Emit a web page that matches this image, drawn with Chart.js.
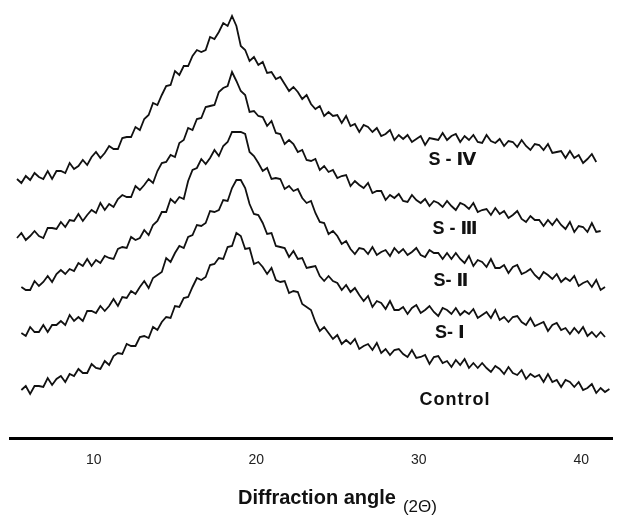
<!DOCTYPE html>
<html>
<head>
<meta charset="utf-8">
<title>Diffraction patterns</title>
<script src="https://cdn.jsdelivr.net/npm/chart.js@4.4.1/dist/chart.umd.min.js"></script>
<style>
  html, body { margin: 0; padding: 0; background: #fff; }
  #wrap { position: relative; width: 623px; height: 518px; }
</style>
</head>
<body>
<div id="wrap"><canvas id="xrd-chart"></canvas></div>
<script>
// diffraction angle (2θ) of each reading
const angles = [
  5.28, 5.55, 5.82, 6.09, 6.36, 6.63, 6.90, 7.17, 7.44, 7.71,
  7.98, 8.25, 8.52, 8.79, 9.06, 9.33, 9.60, 9.87, 10.14, 10.41,
  10.68, 10.95, 11.22, 11.49, 11.76, 12.03, 12.30, 12.57, 12.84, 13.11,
  13.38, 13.65, 13.92, 14.19, 14.46, 14.73, 15.00, 15.27, 15.54, 15.81,
  16.08, 16.35, 16.62, 16.89, 17.16, 17.43, 17.70, 17.97, 18.24, 18.51,
  18.78, 19.05, 19.32, 19.59, 19.86, 20.13, 20.40, 20.67, 20.94, 21.21,
  21.48, 21.75, 22.02, 22.29, 22.56, 22.83, 23.10, 23.37, 23.64, 23.91,
  24.18, 24.45, 24.72, 24.99, 25.26, 25.53, 25.80, 26.07, 26.34, 26.61,
  26.88, 27.15, 27.42, 27.69, 27.96, 28.23, 28.50, 28.77, 29.04, 29.31,
  29.58, 29.85, 30.12, 30.39, 30.66, 30.93, 31.20, 31.47, 31.74, 32.01,
  32.28, 32.55, 32.82, 33.09, 33.36, 33.63, 33.90, 34.17, 34.44, 34.71,
  34.98, 35.25, 35.52, 35.79, 36.06, 36.33, 36.60, 36.87, 37.14, 37.41,
  37.68, 37.95, 38.22, 38.49, 38.76, 39.03, 39.30, 39.57, 39.84, 40.11,
  40.38, 40.65, 40.92, 41.19, 41.46, 41.73
];

// intensities (arbitrary units, curves stacked with offsets as in the figure)
const sIV = [
  259, 255, 262, 258, 265, 261, 259, 267, 259, 267,
  267, 265, 275, 269, 272, 278, 273, 281, 286, 280,
  285, 292, 289, 289, 300, 301, 301, 311, 308, 319,
  323, 335, 333, 343, 352, 353, 367, 363, 372, 372,
  382, 388, 386, 388, 401, 399, 406, 415, 412, 422,
  412, 392, 388, 377, 381, 373, 376, 365, 366, 359,
  361, 354, 347, 351, 346, 339, 343, 334, 329, 332,
  322, 326, 322, 323, 315, 322, 312, 314, 306, 313,
  311, 306, 310, 302, 304, 308, 298, 303, 299, 303,
  296, 299, 302, 293, 300, 299, 298, 305, 298, 302,
  304, 296, 302, 298, 303, 296, 295, 303, 297, 295,
  299, 292, 297, 296, 291, 298, 292, 288, 294, 293,
  288, 294, 285, 286, 287, 280, 287, 280, 283, 275,
  279, 284, 276, null, null, null
];

const sIII = [
  200, 205, 198, 202, 207, 202, 200, 210, 210, 209,
  216, 211, 218, 217, 224, 217, 223, 228, 225, 235,
  228, 234, 231, 239, 243, 241, 241, 252, 248, 253,
  259, 255, 267, 275, 276, 283, 281, 295, 298, 310,
  308, 319, 320, 331, 332, 333, 346, 350, 352, 366,
  357, 347, 343, 326, 327, 322, 321, 312, 317, 305,
  304, 294, 298, 294, 286, 288, 278, 277, 279, 268,
  272, 266, 268, 260, 262, 263, 252, 257, 253, 250,
  255, 245, 247, 247, 238, 243, 240, 244, 237, 236,
  243, 238, 235, 239, 232, 237, 235, 231, 237, 232,
  228, 235, 233, 229, 235, 226, 228, 229, 223, 230,
  224, 227, 220, 223, 227, 219, 216, 222, 218, 218,
  212, 218, 213, 219, 213, 209, 216, 206, 212, 211,
  206, 215, 206, 207, null, null
];

const sII = [
  null, 151, 148, 148, 157, 152, 156, 162, 156, 164,
  168, 164, 169, 167, 175, 172, 179, 172, 178, 175,
  182, 180, 179, 189, 191, 190, 201, 198, 200, 208,
  203, 213, 217, 226, 226, 239, 235, 241, 239, 257,
  268, 270, 279, 274, 280, 288, 282, 292, 296, 306,
  306, 306, 304, 286, 282, 275, 267, 270, 259, 260,
  259, 249, 252, 247, 249, 240, 235, 237, 225, 216,
  215, 204, 207, 202, 194, 197, 189, 184, 190, 189,
  184, 191, 183, 186, 188, 182, 190, 185, 189, 183,
  186, 190, 183, 181, 188, 185, 185, 179, 185, 179,
  185, 179, 175, 182, 172, 178, 176, 171, 179, 170,
  170, 173, 165, 171, 173, 164, 166, 169, 163, 159,
  166, 163, 159, 164, 156, 160, 157, 162, 152, 155,
  157, 151, 158, 148, 151, null
];

const sI = [
  null, 105, 102, 111, 106, 106, 113, 106, 113, 113,
  117, 113, 123, 117, 121, 117, 127, 127, 125, 132,
  127, 132, 139, 132, 141, 140, 147, 144, 151, 157,
  150, 160, 163, 166, 180, 176, 185, 192, 190, 201,
  203, 213, 212, 215, 227, 226, 228, 238, 237, 250,
  258, 258, 250, 234, 224, 223, 215, 204, 205, 192,
  191, 190, 181, 187, 179, 180, 170, 171, 172, 162,
  157, 162, 157, 155, 148, 153, 146, 150, 143, 137,
  142, 131, 137, 135, 129, 137, 128, 128, 131, 124,
  130, 133, 125, 128, 132, 126, 122, 130, 128, 124,
  130, 123, 127, 124, 129, 120, 123, 126, 120, 128,
  118, 121, 116, 121, 122, 116, 113, 120, 112, 114,
  116, 107, 113, 115, 108, 110, 104, 110, 105, 111,
  102, 106, 101, 106, 101, null
];

const control = [
  null, 48, 52, 44, 52, 52, 51, 60, 53, 59,
  62, 56, 64, 62, 69, 65, 65, 74, 70, 69,
  77, 73, 82, 85, 84, 94, 92, 92, 101, 102,
  100, 111, 108, 116, 121, 120, 132, 131, 140, 141,
  151, 160, 158, 161, 173, 174, 180, 179, 191, 192,
  205, 202, 189, 190, 174, 176, 171, 164, 170, 158,
  156, 157, 145, 147, 146, 134, 131, 128, 116, 107,
  111, 105, 99, 103, 94, 98, 94, 99, 89, 92,
  94, 88, 95, 85, 89, 83, 88, 89, 84, 81,
  88, 80, 81, 83, 74, 81, 82, 75, 77, 71,
  78, 73, 79, 70, 75, 70, 75, 70, 66, 72,
  69, 64, 71, 65, 63, 68, 59, 64, 61, 63,
  56, 64, 56, 58, 51, 58, 56, 51, 56, 48,
  50, 54, 45, 50, 46, 49
];

const tickValues = [10, 20, 30, 40];

// curve names and where they sit (angle, intensity)
const curveNames = ["S - Ⅳ", "S - Ⅲ", "S- Ⅱ", "S- Ⅰ", "Control"];
const nameAngles = [32.07, 32.23, 31.98, 31.92, 32.23];
const nameLevels = [278, 209, 157, 105, 38];

const allSeries = [sIV, sIII, sII, sI, control];

function toPoints(values) {
  return angles.map((a, i) => ({ x: a, y: values[i] }));
}

const curveLabels = {
  id: "curveLabels",
  afterDatasetsDraw(chart) {
    const ctx = chart.ctx;
    const xScale = chart.scales.x;
    const yScale = chart.scales.y;
    ctx.save();
    ctx.fillStyle = "#111";
    ctx.textAlign = "center";
    ctx.textBaseline = "middle";
    curveNames.forEach((name, i) => {
      if (i === 4) {
        ctx.font = "bold 18px 'Liberation Sans', Arial, sans-serif";
        ctx.letterSpacing = "1px";
      } else {
        ctx.font = "bold 18px 'Liberation Sans', 'DejaVu Sans', sans-serif";
        ctx.letterSpacing = "0px";
      }
      ctx.fillText(name, xScale.getPixelForValue(nameAngles[i]), yScale.getPixelForValue(nameLevels[i]));
    });
    ctx.restore();
  }
};

const axisTitle = {
  id: "axisTitle",
  afterDraw(chart) {
    const ctx = chart.ctx;
    const main = "Diffraction angle";
    const sub = "(2Θ)";
    const mainFont = "bold 20px 'Liberation Sans', Arial, sans-serif";
    const subFont = "17px 'Liberation Sans', 'DejaVu Sans', sans-serif";
    const gap = 7;

    ctx.save();
    ctx.fillStyle = "#111";
    ctx.textAlign = "left";
    ctx.textBaseline = "alphabetic";
    ctx.font = mainFont;
    const w1 = ctx.measureText(main).width;
    ctx.font = subFont;
    const w2 = ctx.measureText(sub).width;

    const mid = chart.scales.x.getPixelForValue((tickValues[0] + tickValues[tickValues.length - 1]) / 2);
    const left = mid - (w1 + gap + w2) / 2;
    const base = chart.height - 14;

    ctx.font = mainFont;
    ctx.fillText(main, left, base);
    ctx.font = subFont;
    ctx.fillText(sub, left + w1 + gap, base + 8);
    ctx.restore();
  }
};

new Chart(document.getElementById("xrd-chart"), {
  type: "line",
  data: {
    datasets: allSeries.map((values, i) => ({
      label: curveNames[i],
      data: toPoints(values),
      borderColor: "#111",
      borderWidth: 1.8,
      pointRadius: 0,
      tension: 0,
      spanGaps: false
    }))
  },
  options: {
    responsive: true,
    maintainAspectRatio: false,
    animation: false,
    layout: { padding: { left: 10, right: 11, top: 0, bottom: 0 } },
    plugins: {
      legend: { display: false },
      tooltip: { enabled: false }
    },
    scales: {
      x: {
        type: "linear",
        min: 4.85,
        max: 41.89,
        afterBuildTicks: scale => {
          scale.ticks = tickValues.map(v => ({ value: v }));
        },
        afterFit: scale => {
          scale.height = 80;
        },
        grid: { display: false, drawTicks: false },
        border: { display: true, color: "#000", width: 3 },
        ticks: {
          color: "#222",
          autoSkip: false,
          maxRotation: 0,
          padding: 14,
          font: { family: "'Liberation Sans Narrow', 'Liberation Sans', Arial, sans-serif", size: 14 }
        }
      },
      y: {
        display: false,
        min: 0,
        max: 438
      }
    }
  },
  plugins: [curveLabels, axisTitle]
});
</script>
</body>
</html>
